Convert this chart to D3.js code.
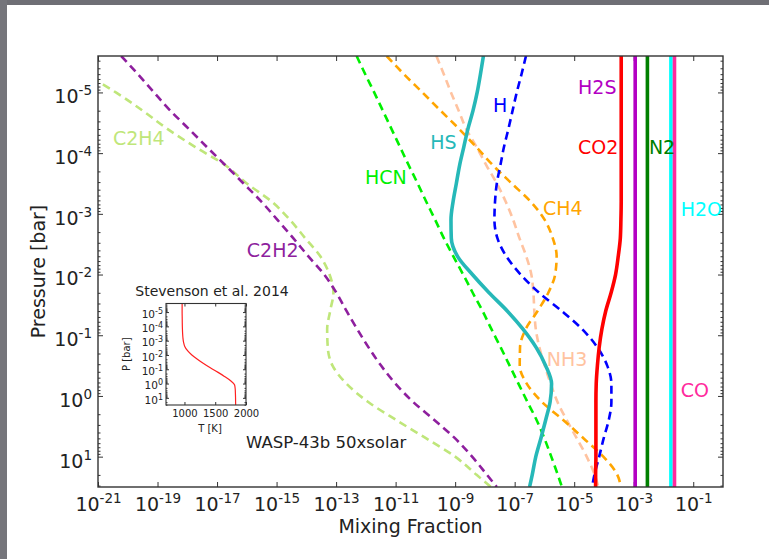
<!DOCTYPE html>
<html>
<head>
<meta charset="utf-8">
<script src="https://cdn.jsdelivr.net/npm/d3@7"></script>
<style>
  body { margin: 0; background: #fff; }
  text { font-family: 'DejaVu Sans', sans-serif; fill: #222; }
</style>
</head>
<body>
<script>
// pressure levels, log10(bar)
const logP = [-5.6, -5.3, -5.0, -4.7, -4.4, -4.1, -3.8, -3.5, -3.2, -2.9, -2.6, -2.3, -2.0,
  -1.7, -1.4, -1.1, -0.8, -0.5, -0.2, 0.1, 0.4, 0.7, 1.0, 1.3, 1.5];
const logPEnds = [-5.6, 1.5];

// mixing fractions, log10
const logC2H4 = [-22.3, -21.4, -20.4, -19.5, -18.67, -17.73, -16.72, -16.0, -15.16, -14.55, -14.04, -13.53, -13.22,
  -13.09, -13.2, -13.3, -13.28, -13.12, -12.65, -11.92, -10.97, -9.97, -9.0, -8.28, -7.8];
const logC2H2 = [-20.22, -19.66, -19.12, -18.57, -17.95, -17.34, -16.72, -16.11, -15.51, -14.97, -14.44, -13.93, -13.4,
  -12.99, -12.65, -12.29, -11.91, -11.49, -11.0, -10.41, -9.69, -9.0, -8.43, -7.93, -7.6];
const logHCN = [-12.31, -12.02, -11.72, -11.43, -11.14, -10.85, -10.56, -10.26, -9.97, -9.67, -9.38, -9.06, -8.73,
  -8.41, -8.08, -7.78, -7.47, -7.17, -6.87, -6.57, -6.26, -6.0, -5.77, -5.55, -5.41];
const logCH4 = [-11.3, -10.72, -10.1, -9.49, -8.87, -8.29, -7.73, -7.1, -6.46, -5.99, -5.72, -5.59, -5.64,
  -5.87, -6.23, -6.63, -6.82, -6.83, -6.59, -6.08, -5.36, -4.68, -4.02, -3.55, -3.43];
const logNH3 = [-9.63, -9.38, -9.14, -8.88, -8.63, -8.28, -7.95, -7.6, -7.3, -7.05, -6.84, -6.61, -6.44,
  -6.37, -6.34, -6.29, -6.17, -5.99, -5.79, -5.56, -5.25, -4.91, -4.58, -4.31, -4.19];
const logH = [-6.62, -6.77, -6.93, -7.07, -7.21, -7.36, -7.48, -7.6, -7.66, -7.68, -7.58, -7.28, -6.8,
  -6.18, -5.42, -4.73, -4.22, -3.89, -3.75, -3.75, -3.84, -4.01, -4.16, -4.32, -4.4];
const logHS = [-8.05, -8.15, -8.26, -8.4, -8.57, -8.71, -8.85, -8.96, -9.07, -9.14, -9.13, -8.92, -8.42,
  -7.86, -7.25, -6.72, -6.28, -5.96, -5.76, -5.81, -5.96, -6.12, -6.29, -6.41, -6.5];
const logCO2 = [-3.42, -3.42, -3.42, -3.42, -3.42, -3.42, -3.42, -3.42, -3.42, -3.43, -3.45, -3.52, -3.61,
  -3.76, -3.94, -4.07, -4.16, -4.22, -4.26, -4.27, -4.27, -4.27, -4.27, -4.28, -4.28];
const logH2S = [-2.95, -2.95];
const logN2 = [-2.54, -2.54];
const logH2O = [-1.75, -1.75];
const logCO = [-1.63, -1.63];

// inset T-P profile (K)
const temperature = [962, 962, 962, 963, 964, 965, 967, 970, 975, 985, 1005, 1050, 1120,
  1210, 1310, 1420, 1540, 1650, 1750, 1815, 1825, 1828, 1830, 1831, 1832];

const xTickExp = [-21, -19, -17, -15, -13, -11, -9, -7, -5, -3, -1];
const yTickExp = [-5, -4, -3, -2, -1, 0, 1];
const insetXTicks = [1000, 1500, 2000];

// style + label placement (label pos in log10 data units)
let species = [
  {name: 'C2H4', p: logP, v: logC2H4, color: '#bfe67a', dash: true, lx: -20.5, lp: -4.13},
  {name: 'C2H2', p: logP, v: logC2H2, color: '#8e1f9e', dash: true, lx: -16.0, lp: -2.29},
  {name: 'HCN', p: logP, v: logHCN, color: '#00f000', dash: true, lx: -12.03, lp: -3.49},
  {name: 'NH3', p: logP, v: logNH3, color: '#ffc3a0', dash: true, lx: -5.92, lp: -0.5},
  {name: 'CH4', p: logP, v: logCH4, color: '#ffa500', dash: true, lx: -6.05, lp: -2.98},
  {name: 'H', p: logP, v: logH, color: '#0000ff', dash: true, lx: -7.73, lp: -4.68},
  {name: 'HS', p: logP, v: logHS, color: '#26b8b8', dash: false, lx: -9.84, lp: -4.07},
  {name: 'CO2', p: logP, v: logCO2, color: '#ff0000', dash: false, lx: -4.87, lp: -3.98},
  {name: 'H2S', p: logPEnds, v: logH2S, color: '#b300c3', dash: false, lx: -4.87, lp: -4.97},
  {name: 'N2', p: logPEnds, v: logN2, color: '#008000', dash: false, lx: -2.49, lp: -3.98},
  {name: 'H2O', p: logPEnds, v: logH2O, color: '#00ffff', dash: false, lx: -1.42, lp: -2.97},
  {name: 'CO', p: logPEnds, v: logCO, color: '#ff2a9d', dash: false, lx: -1.42, lp: 0.01}
];

let margin = {top: 56, left: 98, bottom: 72, right: 46};
let W = 769, H = 559;
let width = W - margin.left - margin.right;
let height = H - margin.top - margin.bottom;

let svg = d3.select('body').append('svg').attr('width', W).attr('height', H);

// grey screenshot edge
svg.append('rect').attr('x', 0).attr('y', 0).attr('width', W).attr('height', 5).attr('fill', '#6f6f75');
svg.append('rect').attr('x', 0).attr('y', 0).attr('width', 7).attr('height', H).attr('fill', '#75757b');

let x = d3.scaleLog().domain([1e-21, 1]).range([0, width]);
let y = d3.scaleLog().domain([Math.pow(10, -5.6), Math.pow(10, 1.5)]).range([0, height]);

let g = svg.append('g').attr('transform', 'translate(' + margin.left + ',' + margin.top + ')');

g.append('clipPath').attr('id', 'clip').append('rect').attr('width', width).attr('height', height);

function supLabel(sel, fs, sfs, rise) {
  sel.each(function(d) {
    let e = Math.round(Math.log10(d));
    let t = d3.select(this).text(null).attr('font-size', fs);
    t.append('tspan').text('10');
    t.append('tspan').attr('dy', -rise).attr('font-size', sfs).text(e);
  });
}

// minor pressure ticks
let minorP = [];
for (let k = -6; k <= 1; k++) {
  for (let m = 2; m <= 9; m++) {
    let v = m * Math.pow(10, k);
    if (v > y.domain()[0] && v < y.domain()[1]) minorP.push(v);
  }
}
let majorP = yTickExp.map(e => Math.pow(10, e));
let majorX = xTickExp.map(e => Math.pow(10, e));

// ticks pointing inward on all four sides
let axB = g.append('g').attr('transform', 'translate(0,' + height + ')')
  .call(d3.axisBottom(x).tickValues(majorX).tickSizeInner(-5).tickSizeOuter(0).tickPadding(11));
axB.selectAll('text').call(supLabel, 19, 13.5, 8);
g.append('g').call(d3.axisTop(x).tickValues(majorX).tickSizeInner(-5).tickSizeOuter(0).tickFormat(''));

let axL = g.append('g')
  .call(d3.axisLeft(y).tickValues(majorP).tickSizeInner(-5).tickSizeOuter(0).tickPadding(6));
axL.selectAll('text').attr('dy', '0.55em').call(supLabel, 19, 13.5, 8);
g.append('g').call(d3.axisLeft(y).tickValues(minorP).tickSizeInner(-2.5).tickSizeOuter(0).tickFormat(''));
g.append('g').attr('transform', 'translate(' + width + ',0)')
  .call(d3.axisRight(y).tickValues(majorP).tickSizeInner(-5).tickSizeOuter(0).tickFormat(''));
g.append('g').attr('transform', 'translate(' + width + ',0)')
  .call(d3.axisRight(y).tickValues(minorP).tickSizeInner(-2.5).tickSizeOuter(0).tickFormat(''));
g.selectAll('.domain').remove();
g.selectAll('.tick line').attr('stroke', '#333');

let line = d3.line()
  .x(d => x(Math.pow(10, d[1])))
  .y(d => y(Math.pow(10, d[0])))
  .curve(d3.curveMonotoneY);

let curves = g.append('g').attr('clip-path', 'url(#clip)');
let order = species.filter(s => s.dash).concat(species.filter(s => !s.dash));
curves.selectAll('path').data(order).enter().append('path')
  .attr('d', s => line(s.p.map((p, i) => [p, s.v[i]])))
  .attr('fill', 'none')
  .attr('stroke', s => s.color)
  .attr('stroke-width', s => s.dash ? 2.6 : 3.6)
  .attr('stroke-dasharray', s => s.dash ? '8,5' : null);

g.selectAll('.lab').data(species).enter().append('text').attr('class', 'lab')
  .attr('x', s => x(Math.pow(10, s.lx)))
  .attr('y', s => y(Math.pow(10, s.lp)))
  .attr('font-size', 19)
  .style('fill', s => s.color)
  .text(s => s.name);

g.append('rect').attr('width', width).attr('height', height)
  .attr('fill', 'none').attr('stroke', '#333').attr('stroke-width', 1.4);

g.append('text').attr('x', 148).attr('y', 392).attr('font-size', 16.5).text('WASP-43b 50xsolar');

svg.append('text').attr('x', margin.left + width / 2).attr('y', 533)
  .attr('text-anchor', 'middle').attr('font-size', 19).text('Mixing Fraction');
svg.append('text').attr('transform', 'translate(45,' + (margin.top + height / 2) + ') rotate(-90)')
  .attr('text-anchor', 'middle').attr('font-size', 19).text('Pressure [bar]');

// inset: temperature profile
let inset = {left: 166, top: 303.5, width: 80, height: 101.5};
let ix = d3.scaleLinear().domain([700, 2000]).range([0, inset.width]);
let iy = d3.scaleLog().domain(y.domain()).range([0, inset.height]);
let ig = svg.append('g').attr('transform', 'translate(' + inset.left + ',' + inset.top + ')');

ig.append('rect').attr('width', inset.width).attr('height', inset.height).attr('fill', '#fff');
let iaB = ig.append('g').attr('transform', 'translate(0,' + inset.height + ')')
  .call(d3.axisBottom(ix).tickValues(insetXTicks).tickSizeInner(-3).tickSizeOuter(0).tickPadding(5).tickFormat(d3.format('d')));
iaB.selectAll('text').attr('font-size', 10);
ig.append('g').call(d3.axisTop(ix).tickValues(insetXTicks).tickSizeInner(-3).tickSizeOuter(0).tickFormat(''));
let iaL = ig.append('g')
  .call(d3.axisLeft(iy).tickValues(majorP).tickSizeInner(-3).tickSizeOuter(0).tickPadding(3));
iaL.selectAll('text').attr('dy', '0.5em').call(supLabel, 10.5, 8, 4);
ig.append('g').call(d3.axisLeft(iy).tickValues(minorP).tickSizeInner(-1.5).tickSizeOuter(0).tickFormat(''));
ig.append('g').attr('transform', 'translate(' + inset.width + ',0)')
  .call(d3.axisRight(iy).tickValues(majorP).tickSizeInner(-3).tickSizeOuter(0).tickFormat(''));
ig.append('g').attr('transform', 'translate(' + inset.width + ',0)')
  .call(d3.axisRight(iy).tickValues(minorP).tickSizeInner(-1.5).tickSizeOuter(0).tickFormat(''));
ig.selectAll('.domain').remove();
ig.selectAll('.tick line').attr('stroke', '#333');

let tpLine = d3.line().x(d => ix(d[1])).y(d => iy(Math.pow(10, d[0]))).curve(d3.curveMonotoneY);
ig.append('path').attr('d', tpLine(logP.map((p, i) => [p, temperature[i]])))
  .attr('fill', 'none').attr('stroke', '#ff2020').attr('stroke-width', 1.2);
ig.append('rect').attr('width', inset.width).attr('height', inset.height)
  .attr('fill', 'none').attr('stroke', '#333').attr('stroke-width', 1.1);

ig.append('text').attr('x', inset.width / 2 + 6).attr('y', -8).attr('text-anchor', 'middle')
  .attr('font-size', 14).text('Stevenson et al. 2014');
ig.append('text').attr('x', inset.width / 2 + 4).attr('y', 128.5).attr('text-anchor', 'middle')
  .attr('font-size', 10).text('T [K]');
ig.append('text').attr('transform', 'translate(-36,' + (inset.height / 2) + ') rotate(-90)')
  .attr('text-anchor', 'middle').attr('font-size', 10).text('P [bar]');
</script>
</body>
</html>
